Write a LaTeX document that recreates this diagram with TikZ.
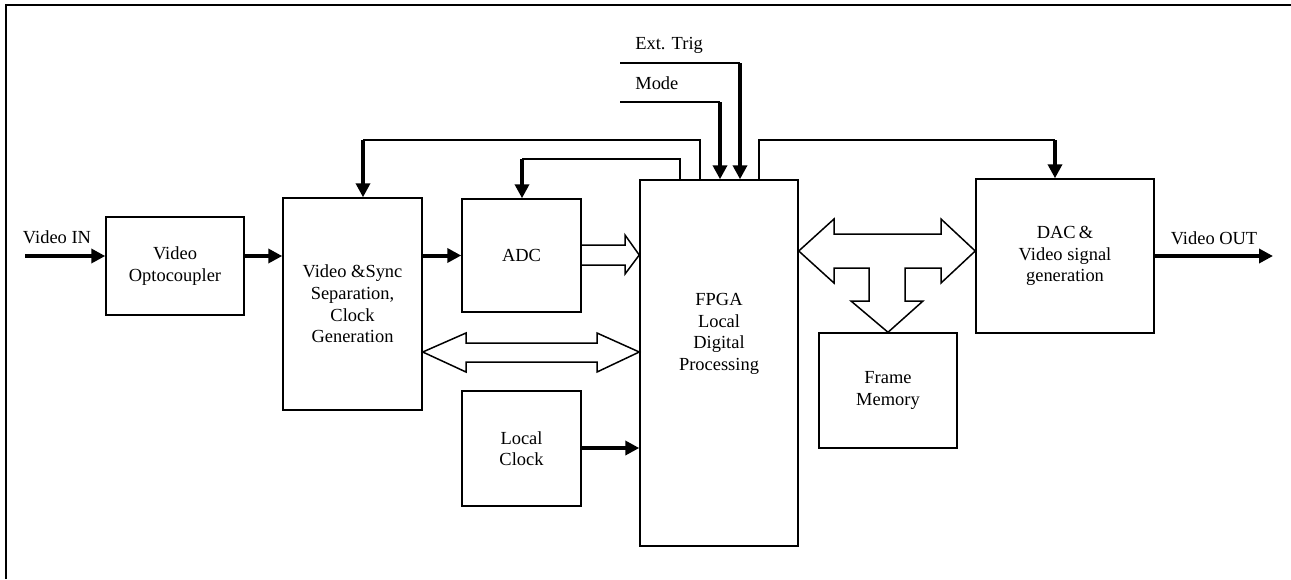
\documentclass[tikz,border=0pt]{standalone}
\usepackage{fontspec}
\setmainfont{Liberation Serif}
\usetikzlibrary{arrows.meta, positioning, calc}

\tikzset{
  block/.style={draw, line width=0.03cm, align=center, inner sep=0pt},
  wire/.style={line width=0.03cm},
  sig/.style={line width=0.08cm, -{Triangle[length=0.28cm, width=0.28cm]}},
  bus/.style={draw, line width=0.03cm, line join=miter},
  lbl/.style={inner sep=0pt, align=center}
}

\begin{document}
\begin{tikzpicture}[x=0.02cm, y=-0.02cm, font=\fontsize{10.5}{12.3}\selectfont]
    \useasboundingbox (0,0) rectangle (1291,579);
    % frame
    \draw[line width=0.04cm] (6,579) -- (6,5) -- (1291,5);

    % blocks
    \node[block, minimum width=2.76cm, minimum height=1.96cm] (opto) at (175,266) {Video\\Optocoupler};
    \node[block, minimum width=2.78cm, minimum height=4.24cm] (sync) at (352.5,304) {Video \&Sync\\Separation,\\Clock\\Generation};
    \node[block, minimum width=2.38cm, minimum height=2.26cm] (adc) at (521.5,255.5) {ADC};
    \node[block, minimum width=2.38cm, minimum height=2.30cm] (clk) at (521.5,448.5) {Local\\Clock};
    \node[block, minimum width=3.16cm, minimum height=7.32cm] (fpga) at (719,363) {};
    \node[lbl] (fpgatxt) at (719,334) {FPGA\\Local\\Digital\\Processing};
    \node[block, minimum width=2.76cm, minimum height=2.30cm] (fmem) at (888,390.5) {Frame\\Memory};
    \node[block, minimum width=3.56cm, minimum height=3.08cm] (dac) at (1065,256) {DAC\,\&\\Video signal\\generation};

    % video in / out
    \coordinate (vin) at (25,256);
    \coordinate (vout) at (1273,256);
    \node[lbl] (vinlbl) at (57,237) {Video IN};
    \node[lbl] (voutlbl) at (1214,238) {Video OUT};
    \draw[sig] (vin) -- (opto.west |- vin);
    \draw[sig] (dac.east |- vout) -- (vout);

    % signal chain
    \draw[sig] (opto.east |- vin) -- (sync.west |- vin);
    \draw[sig] (sync.east |- adc.west) -- (adc.west);
    \draw[sig] (clk.east |- 0,448) -- (fpga.west |- 0,448);

    % control inputs
    \coordinate (trig) at (620,63);
    \coordinate (mode) at (620,102);
    \node[lbl, anchor=west] (triglbl) at (635,45) {Ext. Trig};
    \node[lbl, anchor=west] (modelbl) at (635,83) {Mode};
    \draw[wire] (trig) -- (740,63);
    \draw[sig] (740,63) -- (fpga.north -| 740,0);
    \draw[wire] (mode) -- (720,102);
    \draw[sig] (720,102) -- (fpga.north -| 720,0);

    % feedback loops
    \draw[wire] (fpga.north -| 700,0) -- (700,140) -- (363,140);
    \draw[sig] (363,140) -- (sync.north -| 363,0);
    \draw[wire] (fpga.north -| 680,0) -- (680,159) -- (522,159);
    \draw[sig] (522,159) -- (adc.north -| 522,0);
    \draw[wire] (fpga.north -| 759,0) -- (759,140) -- (1055,140);
    \draw[sig] (1055,140) -- (dac.north -| 1055,0);

    % buses
    \draw[bus] (adc.east |- 0,245) -- (625,245) -- (625,235) -- (fpga.west |- 0,255)
        -- (625,274) -- (625,265) -- (adc.east |- 0,265);
    \draw[bus] (sync.east |- 0,352) -- (466,333) -- (466,343) -- (597,343) -- (597,333)
        -- (fpga.west |- 0,352) -- (597,372) -- (597,362) -- (466,362) -- (466,372) -- cycle;
    \draw[bus] (fpga.east |- 0,251) -- (834,219) -- (834,234) -- (941,234) -- (941,219)
        -- (dac.west |- 0,251) -- (941,283) -- (941,268) -- (905,268) -- (905,301)
        -- (923,301) -- (fmem.north) -- (851,301) -- (869,301) -- (869,268)
        -- (834,268) -- (834,283) -- cycle;
\end{tikzpicture}
\end{document}
